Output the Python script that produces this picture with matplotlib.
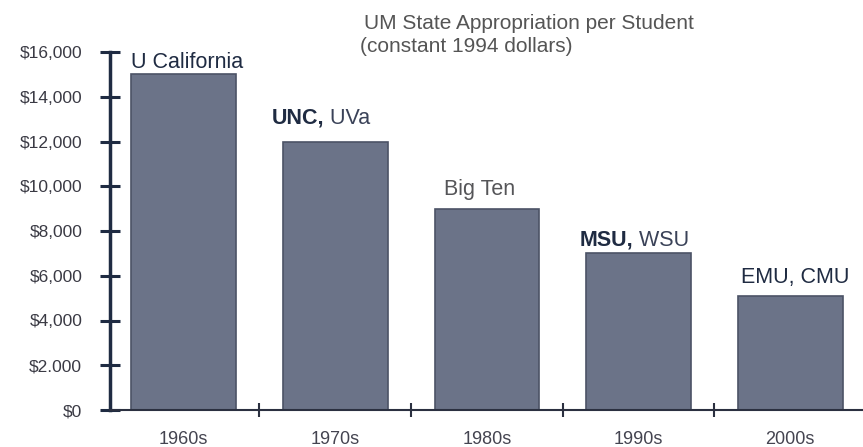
import numpy as np
import matplotlib.pyplot as plt

plt.rcParams['font.family'] = ['Liberation Sans', 'DejaVu Sans']

decades = ["1960s", "1970s", "1980s", "1990s", "2000s"]
appropriation = [15000, 12000, 9000, 7000, 5100]
peer_bold = ["", "UNC,", "", "MSU,", ""]
peer_rest = ["U California", " UVa", "Big Ten", " WSU", "EMU, CMU"]
yticks = [0, 2000, 4000, 6000, 8000, 10000, 12000, 14000, 16000]
ytick_labels = ["$0", "$2.000", "$4,000", "$6,000", "$8,000",
                "$10,000", "$12,000", "$14,000", "$16,000"]

navy = "#1f2b42"
bar_col = "#6b7388"

fig = plt.figure(figsize=(8.63, 4.47), dpi=100)
ax = fig.add_axes([110/863, 37/447, 753/863, 358/447])

x = np.arange(len(decades))
ax.bar(x, appropriation, width=0.69, color=bar_col, edgecolor="#4c5366",
       linewidth=1.2, zorder=2)

ax.set_xlim(-0.485, 4.48)
ax.set_ylim(0, 16000)

for s in ["top", "right"]:
    ax.spines[s].set_visible(False)
ax.spines["left"].set_color(navy)
ax.spines["left"].set_linewidth(2.5)
ax.spines["bottom"].set_color("#2b3040")
ax.spines["bottom"].set_linewidth(1.5)

ax.set_yticks(yticks)
ax.set_yticklabels(ytick_labels)
ax.tick_params(axis="y", direction="inout", length=14, width=2.2,
               color=navy, labelsize=12.5, labelcolor="#3a3a44", pad=13)

ax.set_xticks(x)
ax.set_xticklabels(decades)
ax.set_xticks(x[:-1] + 0.5, minor=True)
ax.tick_params(axis="x", which="major", length=0, labelsize=13,
               labelcolor="#444450", pad=15)
ax.tick_params(axis="x", which="minor", direction="inout", length=10,
               width=1.5, color="#2b3040")

# labels above bars (baseline offsets in dollars)
label_dy = [290, 800, 600, 350, 580]
label_x = [0.02, -0.42, -0.05, -0.39, 0.03]
for i, v in enumerate(appropriation):
    y = v + label_dy[i]
    if peer_bold[i]:
        t1 = ax.text(i + label_x[i], y, peer_bold[i], ha="left", va="baseline",
                     fontsize=15.5, fontweight="bold", color=navy)
        ax.annotate(peer_rest[i], xy=(1, 0), xycoords=t1, ha="left",
                    va="bottom", fontsize=15.5, color="#3a4258")
    else:
        col = "#555558" if peer_rest[i] == "Big Ten" else navy
        ax.text(i + label_x[i], y, peer_rest[i], ha="center", va="baseline",
                fontsize=15.5, color=col)

fig.text(364/863, 1 - 29/447, "UM State Appropriation per Student",
         fontsize=15, color="#555555", ha="left", va="baseline")
fig.text(360/863, 1 - 52/447, "(constant 1994 dollars)",
         fontsize=15, color="#555555", ha="left", va="baseline")

plt.savefig("out.png", dpi=100)
